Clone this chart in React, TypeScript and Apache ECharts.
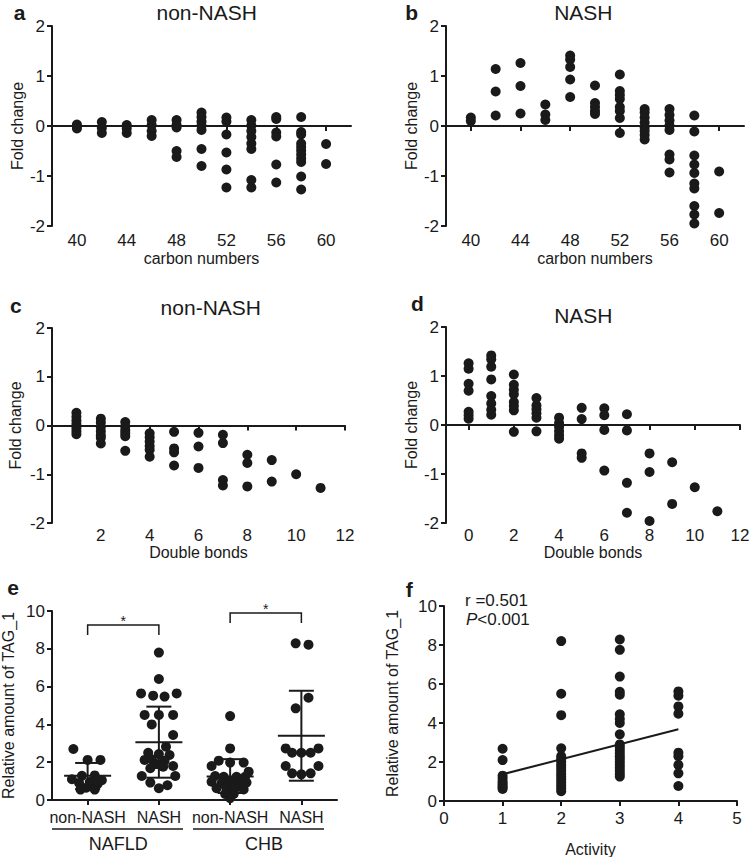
import React, { useEffect, useRef } from 'react';
import * as echarts from 'echarts';

// ---------- data ----------
const carbonNumbers = [40, 42, 44, 46, 48, 50, 52, 54, 56, 58, 60];
const nonNashByCarbon = [
  [0.03, -0.01, -0.05],
  [0.08, -0.04, -0.14],
  [0.02, -0.05, -0.14],
  [0.12, 0.02, -0.1, -0.2],
  [0.12, 0.02, -0.03, -0.5, -0.62],
  [0.27, 0.18, 0.09, 0.01, -0.08, -0.46, -0.8],
  [0.17, 0.09, -0.17, -0.53, -0.87, -1.23],
  [0.12, 0.01, -0.1, -0.22, -0.35, -0.46, -1.08, -1.23],
  [0.18, 0.14, -0.13, -0.21, -0.77, -1.13],
  [0.18, -0.12, -0.17, -0.35, -0.42, -0.49, -0.57, -0.65, -0.72, -1.01, -1.27],
  [-0.36, -0.76],
];
const nashByCarbon = [
  [0.17, 0.1],
  [1.14, 0.69, 0.21],
  [1.26, 0.8, 0.25],
  [0.43, 0.23, 0.12],
  [1.41, 1.33, 1.18, 0.93, 0.58],
  [0.81, 0.46, 0.38, 0.3, 0.24],
  [1.03, 0.7, 0.62, 0.54, 0.38, 0.3, 0.16, -0.14],
  [0.34, 0.27, 0.17, 0.07, -0.03, -0.1, -0.18, -0.27],
  [0.34, 0.22, 0.11, 0.01, -0.08, -0.57, -0.67, -0.93],
  [0.21, -0.11, -0.59, -0.77, -0.94, -1.15, -1.25, -1.6, -1.77, -1.95],
  [-0.91, -1.74],
];
const bondsNonNash = [1, 2, 3, 4, 5, 6, 7, 8, 9, 10, 11];
const nonNashByBonds = [
  [0.26, 0.18, 0.1, 0.03, -0.05, -0.12, -0.18],
  [0.14, 0.06, -0.03, -0.12, -0.2, -0.25, -0.37],
  [0.07, -0.02, -0.1, -0.16, -0.22, -0.52],
  [-0.16, -0.24, -0.33, -0.42, -0.5, -0.64],
  [-0.13, -0.47, -0.55, -0.82],
  [-0.15, -0.43, -0.87],
  [-0.19, -0.36, -1.12, -1.23],
  [-0.6, -0.77, -1.25],
  [-0.71, -1.15],
  [-1.0],
  [-1.28],
];
const bondsNash = [0, 1, 2, 3, 4, 5, 6, 7, 8, 9, 10, 11];
const nashByBonds = [
  [1.26, 1.15, 0.84, 0.7, 0.27, 0.2, 0.13],
  [1.42, 1.34, 1.19, 0.93, 0.59, 0.44, 0.31, 0.21],
  [1.03, 0.82, 0.72, 0.63, 0.47, 0.39, 0.3, -0.14],
  [0.55, 0.4, 0.32, 0.24, 0.15, -0.13],
  [0.15, 0.04, -0.04, -0.13, -0.21, -0.28],
  [0.35, 0.12, -0.58, -0.67],
  [0.34, 0.2, -0.1, -0.93],
  [0.22, -0.11, -1.18, -1.79],
  [-0.58, -0.96, -1.96],
  [-0.76, -1.61],
  [-1.27],
  [-1.76],
];
const foldTicks = [-2, -1, 0, 1, 2];
const carbonTicks = [40, 44, 48, 52, 56, 60];
const bondTicksC = [2, 4, 6, 8, 10, 12];
const bondTicksD = [0, 2, 4, 6, 8, 10, 12];

// panel e: [jitter offset within category, relative amount]
const eCategories = ['non-NASH', 'NASH', 'non-NASH', 'NASH'];
const eGroups = ['NAFLD', 'CHB'];
const eNonNashNafld = [
  [-0.2, 2.7], [0.0, 2.12], [0.18, 2.12], [-0.22, 1.1], [-0.08, 1.28], [0.1, 1.3], [0.2, 1.05],
  [-0.12, 0.9], [0.03, 0.95], [0.14, 0.85], [-0.02, 0.65], [0.1, 0.55], [-0.1, 0.55],
];
const eNashNafld = [
  [0, 7.8], [0, 6.4], [-0.25, 5.64], [-0.08, 5.52], [0.08, 5.47], [0.25, 5.64], [-0.2, 4.5], [0, 4.5],
  [0.2, 4.5], [-0.1, 4.0], [0.2, 3.44], [0.1, 2.82], [-0.15, 2.5], [0, 2.43], [0.15, 2.38], [-0.2, 2.12],
  [-0.1, 2.15], [0.08, 2.08], [0.2, 1.8], [-0.03, 1.9], [0.06, 1.76], [-0.12, 1.68], [-0.24, 1.27],
  [0.23, 1.27], [-0.12, 0.92], [0.12, 0.78], [0, 0.62],
];
const eNonNashChb = [
  [0, 4.44], [0, 2.73], [-0.26, 1.8], [-0.16, 2.08], [0, 1.98], [0.19, 1.98], [0.26, 1.5], [-0.21, 1.27],
  [-0.09, 1.23], [0.09, 1.23], [0.21, 1.23], [-0.26, 0.97], [-0.12, 0.88], [0, 0.97], [0.12, 0.88],
  [0.23, 0.92], [-0.19, 0.62], [-0.05, 0.62], [0.07, 0.62], [0.19, 0.56], [-0.07, 0.32], [0.05, 0.32],
  [0, 0.1],
];
const eNashChb = [
  [-0.08, 8.29], [0.1, 8.22], [0.1, 5.41], [-0.08, 4.85], [-0.22, 2.73], [0.24, 2.73], [-0.13, 2.5],
  [0, 2.5], [0.13, 2.5], [-0.22, 1.8], [0.24, 1.8], [-0.13, 1.41], [0, 1.36], [0.13, 1.41],
];
const ePoints = [eNonNashNafld, eNashNafld, eNonNashChb, eNashChb];
const eMean = [1.28, 3.05, 1.25, 3.4];
const eSdLow = [0.58, 1.18, 0.37, 1.02];
const eSdHigh = [1.96, 4.94, 2.16, 5.78];
// [from category, to category, bracket top, leg bottom]
const eBrackets = [
  [0, 1, 9.26, 8.73],
  [2, 3, 9.9, 9.37],
];

// panel f
const activityLevels = [1, 2, 3, 4];
const tagByActivity = [
  [2.68, 2.1, 1.3, 1.15, 1.0, 0.9, 0.8, 0.7, 0.62],
  [8.2, 5.5, 4.4, 2.7, 2.3, 2.15, 2.0, 1.85, 1.7, 1.55, 1.4, 1.25, 1.1, 0.95, 0.8, 0.65, 0.5],
  [8.28, 7.75, 6.38, 5.6, 5.45, 4.45, 4.2, 4.0, 3.42, 2.9, 2.75, 2.6, 2.45, 2.3, 2.15, 2.0, 1.85, 1.7, 1.55, 1.4, 1.25],
  [5.62, 5.4, 4.85, 4.48, 2.48, 2.3, 1.85, 1.42, 0.77],
];
const regX = [1, 4];
const regY = [1.37, 3.68];

// ---------- styling ----------
const INK = '#1a1a1a';
const FONT = '"Liberation Sans", Arial, Helvetica, sans-serif';

const flat = (xs: number[], vals: number[][]) =>
  xs.flatMap((x, i) => vals[i].map((v) => [x, v]));

function foldY(gridIndex: number, gap: number) {
  return {
    type: 'value', gridIndex, min: -2, max: 2, interval: 1,
    name: 'Fold change', nameLocation: 'middle', nameGap: gap,
    nameTextStyle: { fontSize: 16, color: INK, fontFamily: FONT },
    axisLine: { show: true, onZero: false, lineStyle: { color: INK, width: 2 } },
    axisTick: { show: true, length: 5, customValues: foldTicks, lineStyle: { color: INK, width: 2 } },
    axisLabel: { fontSize: 17, color: INK, margin: 7, fontFamily: FONT, customValues: foldTicks },
    splitLine: { show: false },
  };
}
function zeroX(gridIndex: number, min: number, max: number, ticks: number[]) {
  return {
    type: 'value', gridIndex, min, max, position: 'bottom',
    axisLine: { show: true, onZero: true, lineStyle: { color: INK, width: 2 } },
    axisTick: { show: true, length: 5, customValues: ticks, lineStyle: { color: INK, width: 2 } },
    axisLabel: { show: false },
    splitLine: { show: false },
  };
}
function labelX(gridIndex: number, min: number, max: number, ticks: number[], name: string, gap: number, margin: number) {
  return {
    type: 'value', gridIndex, min, max, position: 'bottom',
    axisLine: { show: false, onZero: false },
    axisTick: { show: false },
    axisLabel: { customValues: ticks, fontSize: 17, color: INK, margin, fontFamily: FONT },
    splitLine: { show: false },
    name, nameLocation: 'middle', nameGap: gap,
    nameTextStyle: { fontSize: 16, color: INK, fontFamily: FONT },
  };
}
function amountY(gridIndex: number, gap: number) {
  return {
    type: 'value', gridIndex, min: 0, max: 10, interval: 2,
    name: 'Relative amount of TAG_1', nameLocation: 'middle', nameGap: gap,
    nameTextStyle: { fontSize: 16, color: INK, fontFamily: FONT },
    axisLine: { show: true, onZero: false, lineStyle: { color: INK, width: 2 } },
    axisTick: { show: true, length: 5, lineStyle: { color: INK, width: 2 } },
    axisLabel: { fontSize: 17, color: INK, margin: 7, fontFamily: FONT },
    splitLine: { show: false },
  };
}
function dots(xAxisIndex: number, yAxisIndex: number, data: number[][]) {
  return {
    type: 'scatter', xAxisIndex, yAxisIndex, data, symbolSize: 10,
    itemStyle: { color: INK, opacity: 1 }, z: 3,
  };
}
function txt(text: string, x: number, y: number, size: number, opts: any = {}) {
  return {
    type: 'text', x, y, z: 10,
    style: {
      text, fontSize: size, fontFamily: FONT, fontWeight: opts.bold ? 'bold' : 'normal',
      fill: INK, align: opts.align || 'center', verticalAlign: 'middle',
      textAlign: opts.align || 'center', textVerticalAlign: 'middle',
      ...(opts.rich ? { rich: opts.rich } : {}),
    },
  };
}

export default function App() {
  const ref = useRef<HTMLDivElement>(null);
  useEffect(() => {
    if (!ref.current) return;
    const chart = echarts.init(ref.current, undefined, { renderer: 'svg' });
    const gridBase = { containLabel: false, outerBoundsMode: 'none' };
    const option: any = {
      animation: false,
      backgroundColor: '#ffffff',
      textStyle: { fontFamily: FONT },
      grid: [
        { ...gridBase, left: 52, top: 26, width: 299, height: 200 },
        { ...gridBase, left: 446, top: 26, width: 298, height: 200 },
        { ...gridBase, left: 52, top: 328, width: 293, height: 195 },
        { ...gridBase, left: 446, top: 327, width: 294, height: 196 },
        { ...gridBase, left: 52, top: 611, width: 285, height: 189 },
        { ...gridBase, left: 444, top: 606, width: 293, height: 195 },
      ],
      xAxis: [
        zeroX(0, 38, 62, carbonTicks),
        labelX(0, 38, 62, carbonTicks, 'carbon numbers', 24, 6),
        zeroX(1, 38, 62, carbonTicks),
        labelX(1, 38, 62, carbonTicks, 'carbon numbers', 24, 6),
        zeroX(2, 0, 12, bondTicksC),
        labelX(2, 0, 12, bondTicksC, 'Double bonds', 20, 4),
        zeroX(3, -1, 12, bondTicksD),
        labelX(3, -1, 12, bondTicksD, 'Double bonds', 20, 4),
        {
          type: 'value', gridIndex: 4, min: -0.5, max: 3.5, position: 'bottom',
          axisLine: { show: true, onZero: false, lineStyle: { color: INK, width: 2 } },
          axisTick: { show: true, length: 5, customValues: [0, 1, 2, 3], lineStyle: { color: INK, width: 2 } },
          axisLabel: {
            customValues: [0, 1, 2, 3], fontSize: 16, color: INK, margin: 9, fontFamily: FONT,
            formatter: (v: number) => eCategories[Math.round(v)] ?? '',
          },
          splitLine: { show: false },
        },
        {
          type: 'value', gridIndex: 5, min: 0, max: 5, interval: 1, position: 'bottom',
          axisLine: { show: true, onZero: false, lineStyle: { color: INK, width: 2 } },
          axisTick: { show: true, length: 5, lineStyle: { color: INK, width: 2 } },
          axisLabel: { fontSize: 17, color: INK, margin: 9, fontFamily: FONT },
          splitLine: { show: false },
          name: 'Activity', nameLocation: 'middle', nameGap: 40,
          nameTextStyle: { fontSize: 16, color: INK, fontFamily: FONT },
        },
      ],
      yAxis: [
        foldY(0, 25),
        foldY(1, 25),
        foldY(2, 29),
        foldY(3, 25),
        amountY(4, 36),
        amountY(5, 44),
      ],
      series: [
        dots(0, 0, flat(carbonNumbers, nonNashByCarbon)),
        dots(2, 1, flat(carbonNumbers, nashByCarbon)),
        dots(4, 2, flat(bondsNonNash, nonNashByBonds)),
        dots(6, 3, flat(bondsNash, nashByBonds)),
        dots(8, 4, ePoints.flatMap((grp, i) => grp.map(([dx, v]) => [i + dx, v]))),
        {
          type: 'custom', xAxisIndex: 8, yAxisIndex: 4, z: 5,
          encode: { x: 0, y: [1, 2, 3] },
          data: eCategories.map((_, i) => [i, eMean[i], eSdLow[i], eSdHigh[i]]),
          renderItem: (params: any, api: any) => {
            const x = api.value(0);
            const pm = api.coord([x, api.value(1)]);
            const pl = api.coord([x, api.value(2)]);
            const ph = api.coord([x, api.value(3)]);
            const st = { stroke: INK, lineWidth: 2 };
            const hl = (p: number[], w: number) => ({
              type: 'line', shape: { x1: p[0] - w, y1: p[1], x2: p[0] + w, y2: p[1] }, style: st,
            });
            return {
              type: 'group',
              children: [
                { type: 'line', shape: { x1: ph[0], y1: ph[1], x2: pl[0], y2: pl[1] }, style: st },
                hl(pm, 23.5),
                hl(ph, 12.5),
                hl(pl, 12.5),
              ],
            };
          },
        },
        {
          type: 'custom', xAxisIndex: 8, yAxisIndex: 4, z: 5,
          encode: { x: [0, 1], y: [2, 3] },
          data: eBrackets,
          renderItem: (params: any, api: any) => {
            const a = api.coord([api.value(0), api.value(3)]);
            const b = api.coord([api.value(0), api.value(2)]);
            const c = api.coord([api.value(1), api.value(2)]);
            const d = api.coord([api.value(1), api.value(3)]);
            return {
              type: 'group',
              children: [
                {
                  type: 'polyline', shape: { points: [a, b, c, d] },
                  style: { stroke: INK, lineWidth: 1.5, fill: null },
                },
                {
                  type: 'text', x: (b[0] + c[0]) / 2, y: b[1] - 4,
                  style: {
                    text: '*', fontSize: 14, fontFamily: FONT, fill: INK,
                    align: 'center', verticalAlign: 'middle',
                  },
                },
              ],
            };
          },
        },
        dots(9, 5, flat(activityLevels, tagByActivity)),
        {
          type: 'line', xAxisIndex: 9, yAxisIndex: 5, z: 4,
          data: regX.map((x, i) => [x, regY[i]]),
          symbol: 'none',
          lineStyle: { color: INK, width: 2 },
        },
      ],
      graphic: [
        txt('a', 19.7, 12, 21, { bold: true }),
        txt('non-NASH', 206.7, 12, 21),
        txt('b', 411.7, 12, 21, { bold: true }),
        txt('NASH', 583.3, 12, 21),
        txt('c', 15.8, 305.6, 21, { bold: true }),
        txt('non-NASH', 210.8, 307.3, 21),
        txt('d', 417.5, 303.3, 21, { bold: true }),
        txt('NASH', 583.3, 315.6, 21),
        txt('e', 13, 587.3, 21, { bold: true }),
        txt('f', 409.3, 589, 21, { bold: true }),
        { type: 'line', shape: { x1: 52, y1: 829, x2: 183, y2: 829 }, style: { stroke: INK, lineWidth: 1.5 } },
        { type: 'line', shape: { x1: 193, y1: 829, x2: 324, y2: 829 }, style: { stroke: INK, lineWidth: 1.5 } },
        txt(eGroups[0], 118.3, 843.7, 18),
        txt(eGroups[1], 264, 843.7, 18),
        txt('r =0.501', 465, 600.8, 17, { align: 'left' }),
        txt('{i|P}<0.001', 466, 619, 17, {
          align: 'left',
          rich: { i: { fontStyle: 'italic', fontSize: 17, fontFamily: FONT, fill: INK, color: INK } },
        }),
      ],
    };
    chart.setOption(option);
    return () => chart.dispose();
  }, []);
  return (
    <div
      ref={ref}
      style={{ position: 'absolute', left: 0, top: 0, width: 750, height: 857, background: '#fff' }}
    />
  );
}
